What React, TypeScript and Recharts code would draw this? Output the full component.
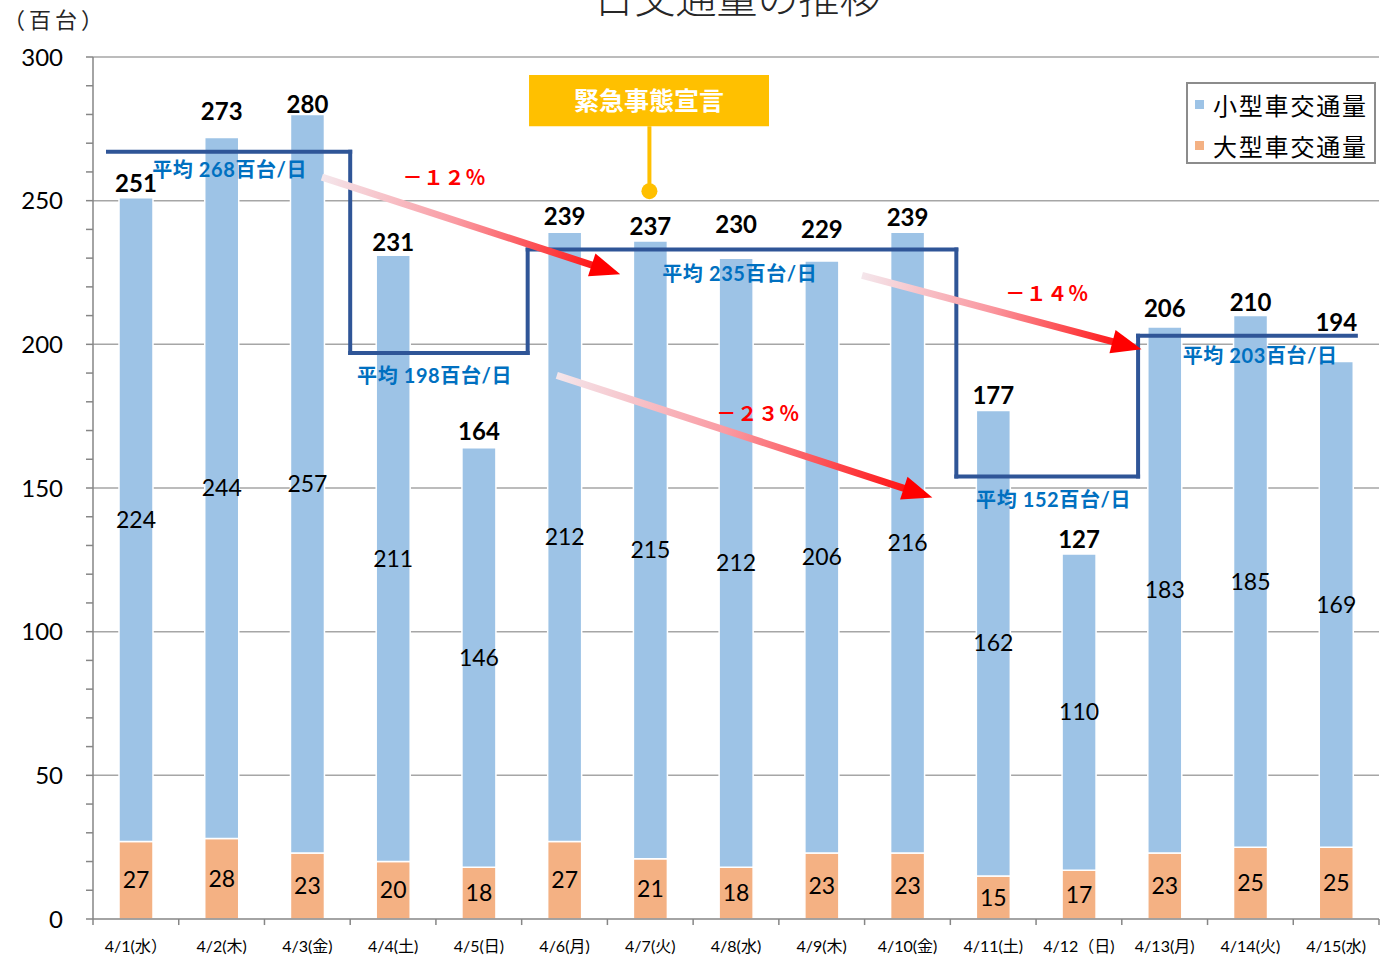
import { ComposedChart, Bar, XAxis, YAxis, CartesianGrid, Legend, LabelList, ReferenceLine, ReferenceDot, ReferenceArea } from 'recharts';

const days = ['4/1(水）', '4/2(木)', '4/3(金)', '4/4(土)', '4/5(日)', '4/6(月)', '4/7(火)', '4/8(水)', '4/9(木)', '4/10(金)', '4/11(土)', '4/12（日)', '4/13(月)', '4/14(火)', '4/15(水)'];
const smallCars = [224, 244, 257, 211, 146, 212, 215, 212, 206, 216, 162, 110, 183, 185, 169];
const largeCars = [27, 28, 23, 20, 18, 27, 21, 18, 23, 23, 15, 17, 23, 25, 25];
const totals = [251, 273, 280, 231, 164, 239, 237, 230, 229, 239, 177, 127, 206, 210, 194];

// averages per period (label text) and where the step line is drawn
const avgValues = [268, 198, 235, 152, 203];
const avgLineLevels = [267, 197, 233, 154, 203];
const periodBounds = [0.175, 3.0, 5.07, 10.07, 12.19, 14.73];
const avgLabelAt = [[0.69, 261], [3.08, 189.5], [6.64, 224.7], [10.3, 146.3], [12.71, 196.2]];

const changes = ['－１２％', '－２３％', '－１４％'];
const changeAt = [[4.1, 258.5], [7.76, 176.3], [11.13, 218.1]];
const arrowFrom = [[2.67, 258.2], [5.41, 189.2], [8.97, 224.0]];
const arrowTo = [[6.15, 224.4], [9.79, 146.7], [12.23, 198.3]];

const yTicks = [0, 10, 20, 30, 40, 50, 60, 70, 80, 90, 100, 110, 120, 130, 140, 150, 160, 170, 180, 190, 200, 210, 220, 230, 240, 250, 260, 270, 280, 290, 300];
const gridValues = [50, 100, 150, 200, 250, 300];

// px lift of the total labels above each bar (manually placed in the original)
const totalLift = [15, 27, 11, 14, 17, 17, 15, 35, 33, 16, 16, 16, 20, 14, 40];

const BLUE = '#9DC3E6';
const ORANGE = '#F4B183';
const NAVY = '#2F5597';
const AXIS = '#868686';
const NUM_FONT = 'Lato, "Noto Sans CJK JP", sans-serif';
const JP_FONT = '"Noto Sans CJK JP", sans-serif';

// slot = category centre on the hidden numeric axis (0..15)
const data = days.map((day, i) => ({ day, slot: i + 0.5, small: smallCars[i], large: largeCars[i], total: totals[i] }));

const stepSegments: { a: [number, number]; b: [number, number] }[] = [];
avgLineLevels.forEach((lvl, k) => {
  stepSegments.push({ a: [periodBounds[k], lvl], b: [periodBounds[k + 1], lvl] });
  if (k < avgLineLevels.length - 1) {
    stepSegments.push({ a: [periodBounds[k + 1], lvl], b: [periodBounds[k + 1], avgLineLevels[k + 1]] });
  }
});

const arrowShape = (id: string) => (p: any) => {
  const { x1, y1, x2, y2 } = p;
  const dx = x2 - x1;
  const dy = y2 - y1;
  const len = Math.hypot(dx, dy);
  const ux = dx / len;
  const uy = dy / len;
  const headLen = 30;
  const headHalf = 12;
  const bx = x2 - ux * headLen;
  const by = y2 - uy * headLen;
  const nx = -uy;
  const ny = ux;
  return (
    <g>
      <defs>
        <linearGradient id={id} gradientUnits="userSpaceOnUse" x1={x1} y1={y1} x2={x2} y2={y2}>
          <stop offset="0" stopColor="#F4E6EB" />
          <stop offset="0.45" stopColor="#FA9AA2" />
          <stop offset="1" stopColor="#FF0000" />
        </linearGradient>
      </defs>
      <line x1={x1} y1={y1} x2={bx + ux * 2} y2={by + uy * 2} stroke={`url(#${id})`} strokeWidth={7} />
      <polygon points={`${x2},${y2} ${bx + nx * headHalf},${by + ny * headHalf} ${bx - nx * headHalf},${by - ny * headHalf}`} fill="#FF0000" />
    </g>
  );
};

const TotalLabel = (props: any) => {
  const { x, y, width, index, value } = props;
  const lift = totalLift[index] ?? 15;
  return (
    <text x={x + width / 2} y={y - lift} textAnchor="middle" dominantBaseline="central" fontFamily={NUM_FONT} fontWeight={700} fontSize={24} fill="#000">
      {value}
    </text>
  );
};

const seriesOrder = ['小型車交通量', '大型車交通量'];

const LegendBox = (props: any) => {
  const items = [...(props.payload || [])].sort((a: any, b: any) => seriesOrder.indexOf(a.value) - seriesOrder.indexOf(b.value));
  return (
    <div style={{ border: '2px solid #8C8C8C', background: '#fff', width: 190, height: 82, boxSizing: 'border-box' }}>
      {items.map((it: any) => (
        <div key={it.value} style={{ display: 'flex', alignItems: 'center', height: 41 }}>
          <span style={{ display: 'inline-block', width: 9, height: 9, background: it.color, marginLeft: 7, marginRight: 9 }} />
          <span style={{ fontFamily: JP_FONT, fontSize: 24, letterSpacing: 1.8, color: '#000', lineHeight: '24px' }}>{it.value}</span>
        </div>
      ))}
    </div>
  );
};

export default function App() {
  return (
    <div style={{ position: 'absolute', left: 0, top: 0, width: 1390, height: 957, background: '#fff', overflow: 'hidden' }}>
      <div style={{ position: 'absolute', left: 0, top: -25, width: 1474, textAlign: 'center', fontFamily: JP_FONT, fontSize: 41, lineHeight: '41px', fontWeight: 300, color: '#262626', zIndex: 2 }}>
        日交通量の推移
      </div>
      <div style={{ position: 'absolute', left: 3, top: 6, fontFamily: JP_FONT, fontSize: 22, lineHeight: '24px', letterSpacing: 4, color: '#262626', zIndex: 2, whiteSpace: 'nowrap' }}>
        （百台）
      </div>
      <ComposedChart width={1390} height={957} data={data} margin={{ top: 57, right: 11, left: 0, bottom: 0 }} barSize={34}>
        <CartesianGrid horizontal vertical={false} horizontalValues={gridValues} stroke="#A6A6A6" strokeWidth={1.5} />
        <XAxis dataKey="day" interval={0} tickLine={false} tickSize={6} tickMargin={16} height={38} axisLine={{ stroke: AXIS, strokeWidth: 1.5 }} tick={{ fontSize: 16, fill: '#000', fontFamily: NUM_FONT }} />
        <XAxis xAxisId="num" dataKey="slot" type="number" domain={[0, 15]} allowDataOverflow hide />
        <YAxis domain={[0, 300]} ticks={yTicks} interval={0} width={93} tickSize={7} tickMargin={23} tickLine={{ stroke: AXIS, strokeWidth: 1.5 }} axisLine={{ stroke: AXIS, strokeWidth: 1.5 }} tickFormatter={(v: number) => (v % 50 === 0 ? String(v) : '')} tick={{ fontSize: 24, fill: '#000', fontFamily: NUM_FONT }} />
        <Legend layout="vertical" align="center" verticalAlign="middle" content={LegendBox} wrapperStyle={{ left: 1186, top: 82, width: 192, height: 84 }} />
        <Bar dataKey="large" name="大型車交通量" stackId="a" fill={ORANGE} stroke="#fff" strokeWidth={1.5} isAnimationActive={false}>
          <LabelList dataKey="large" position="center" fill="#000" fontSize={23} fontFamily={NUM_FONT} />
        </Bar>
        <Bar dataKey="small" name="小型車交通量" stackId="a" fill={BLUE} stroke="#fff" strokeWidth={1.5} isAnimationActive={false}>
          <LabelList dataKey="small" position="center" fill="#000" fontSize={23} fontFamily={NUM_FONT} />
          <LabelList dataKey="total" content={TotalLabel} />
        </Bar>

        {Array.from({ length: days.length + 1 }, (_, i) => (
          <ReferenceLine key={`bt${i}`} xAxisId="num" ifOverflow="visible" segment={[{ x: i, y: 0 }, { x: i, y: -2.1 }]} stroke={AXIS} strokeWidth={1.5} />
        ))}

        {stepSegments.map((s, i) => (
          <ReferenceLine key={`st${i}`} xAxisId="num" ifOverflow="visible" segment={[{ x: s.a[0], y: s.a[1] }, { x: s.b[0], y: s.b[1] }]} stroke={NAVY} strokeWidth={4} strokeLinecap="square" />
        ))}

        {arrowFrom.map((f, i) => (
          <ReferenceLine key={`ar${i}`} xAxisId="num" ifOverflow="visible" segment={[{ x: f[0], y: f[1] }, { x: arrowTo[i][0], y: arrowTo[i][1] }]} shape={arrowShape(`arrowGrad${i}`)} />
        ))}

        {avgValues.map((v, i) => (
          <ReferenceDot key={`al${i}`} xAxisId="num" x={avgLabelAt[i][0]} y={avgLabelAt[i][1]} r={1} ifOverflow="visible"
            shape={(p: any) => (
              <text x={p.cx} y={p.cy} textAnchor="start" dominantBaseline="central" fontFamily={NUM_FONT} fontWeight={700} fontSize={20} letterSpacing={0.6} fill="#0070C0">
                {`平均 ${v}百台/日`}
              </text>
            )} />
        ))}

        {changes.map((c, i) => (
          <ReferenceDot key={`ch${i}`} xAxisId="num" x={changeAt[i][0]} y={changeAt[i][1]} r={1} ifOverflow="visible"
            shape={(p: any) => (
              <text x={p.cx} y={p.cy} textAnchor="middle" dominantBaseline="central" fontFamily={JP_FONT} fontWeight={700} fontSize={20} letterSpacing={1} fill="#FF0000">
                {c}
              </text>
            )} />
        ))}

        <ReferenceArea xAxisId="num" x1={5.086} x2={7.885} y1={275.9} y2={293.7} fill="#FFC000" fillOpacity={1} stroke="none" ifOverflow="visible"
          label={{ value: '緊急事態宣言', position: 'center', fill: '#fff', fontSize: 25, fontWeight: 700, fontFamily: JP_FONT }} />
        <ReferenceLine xAxisId="num" segment={[{ x: 6.49, y: 275.9 }, { x: 6.49, y: 253.3 }]} stroke="#FFC000" strokeWidth={4} ifOverflow="visible" />
        <ReferenceDot xAxisId="num" x={6.49} y={253.3} r={8} fill="#FFC000" stroke="none" ifOverflow="visible" />
      </ComposedChart>
    </div>
  );
}
